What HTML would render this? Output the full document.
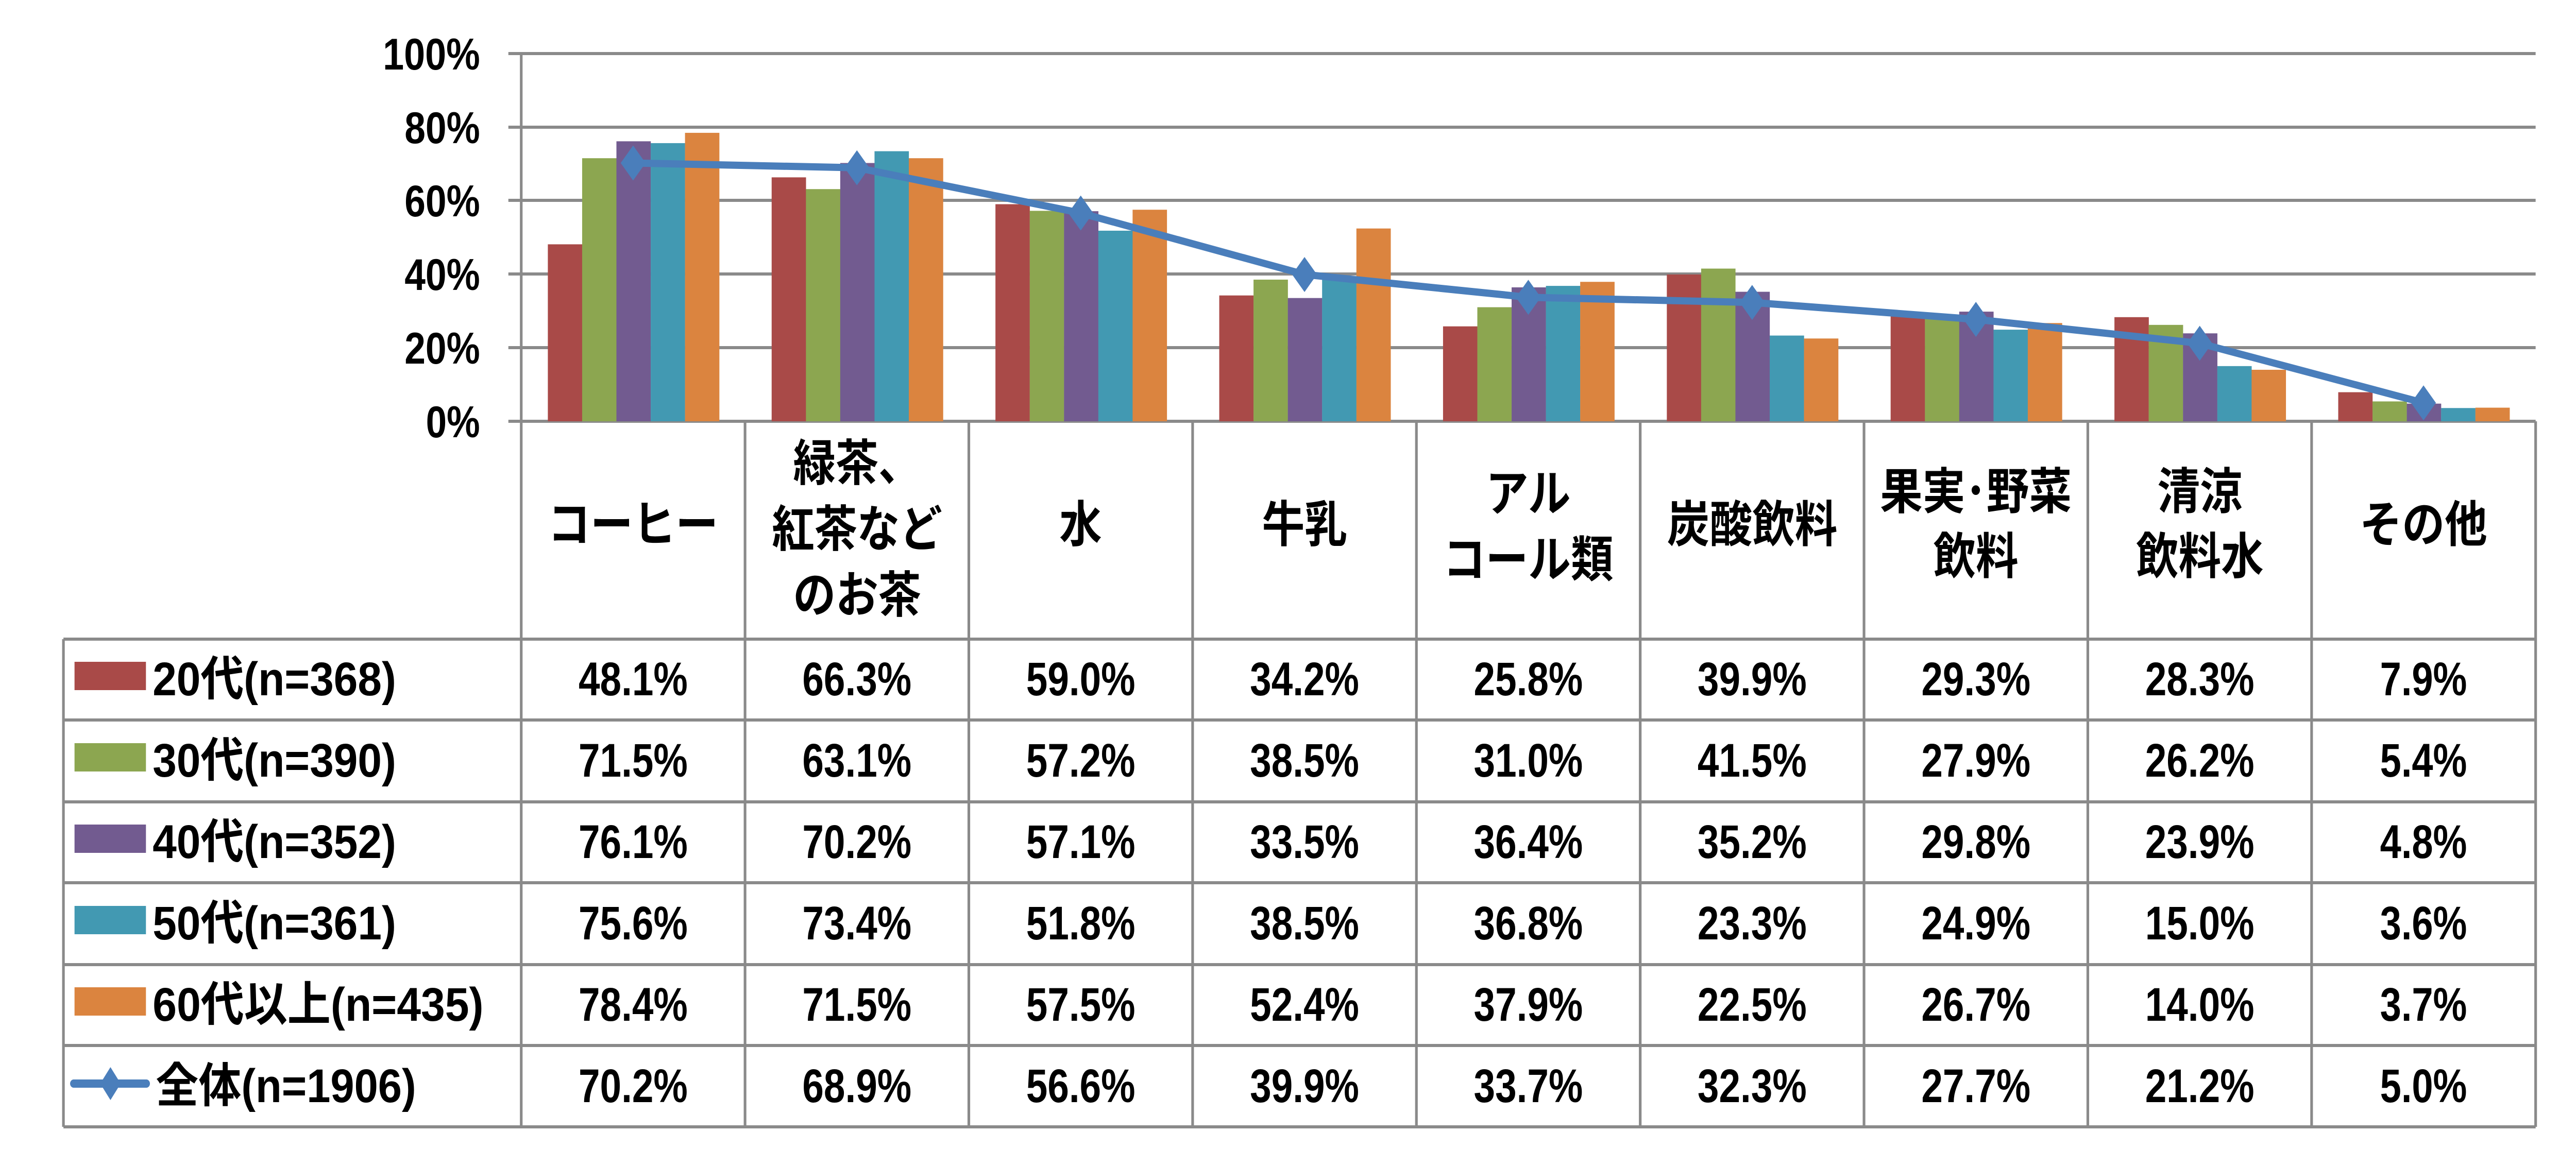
<!DOCTYPE html>
<html><head><meta charset="utf-8"><style>
html,body{margin:0;padding:0;background:#fff;width:100%;height:100%;overflow:hidden;}
svg{display:block;width:100vw;height:100vh;}
text{font-family:"Liberation Sans","Noto Sans CJK JP",sans-serif;font-weight:bold;fill:#000;}
</style></head><body>
<svg viewBox="0 0 5807 2231" preserveAspectRatio="none" xmlns="http://www.w3.org/2000/svg">
<g stroke="#8a8a8a" stroke-width="6">
<line x1="1146" y1="104" x2="5716" y2="104"/>
<line x1="1146" y1="247" x2="5716" y2="247"/>
<line x1="1146" y1="389" x2="5716" y2="389"/>
<line x1="1146" y1="532" x2="5716" y2="532"/>
<line x1="1146" y1="675" x2="5716" y2="675"/>
<line x1="1146" y1="818" x2="5716" y2="818"/>
<line x1="1175" y1="104" x2="1175" y2="2188"/>
<line x1="1679.5" y1="818" x2="1679.5" y2="2188"/>
<line x1="2184" y1="818" x2="2184" y2="2188"/>
<line x1="2688.5" y1="818" x2="2688.5" y2="2188"/>
<line x1="3193" y1="818" x2="3193" y2="2188"/>
<line x1="3697.5" y1="818" x2="3697.5" y2="2188"/>
<line x1="4202" y1="818" x2="4202" y2="2188"/>
<line x1="4706.5" y1="818" x2="4706.5" y2="2188"/>
<line x1="5211" y1="818" x2="5211" y2="2188"/>
<line x1="5716" y1="818" x2="5716" y2="2188"/>
<line x1="143" y1="1241" x2="143" y2="2188"/>
<line x1="143" y1="1241" x2="5716" y2="1241"/>
<line x1="143" y1="1398" x2="5716" y2="1398"/>
<line x1="143" y1="1557" x2="5716" y2="1557"/>
<line x1="143" y1="1714" x2="5716" y2="1714"/>
<line x1="143" y1="1873" x2="5716" y2="1873"/>
<line x1="143" y1="2030" x2="5716" y2="2030"/>
<line x1="143" y1="2188" x2="5716" y2="2188"/>
</g>
<g font-size="86" text-anchor="end">
<text x="1082" y="135" textLength="219" lengthAdjust="spacingAndGlyphs">100%</text>
<text x="1082" y="278" textLength="170" lengthAdjust="spacingAndGlyphs">80%</text>
<text x="1082" y="420" textLength="170" lengthAdjust="spacingAndGlyphs">60%</text>
<text x="1082" y="563" textLength="170" lengthAdjust="spacingAndGlyphs">40%</text>
<text x="1082" y="706" textLength="170" lengthAdjust="spacingAndGlyphs">20%</text>
<text x="1082" y="849" textLength="122" lengthAdjust="spacingAndGlyphs">0%</text>
</g>
<g id="bars"></g>
<g font-size="96" text-anchor="middle">
<text x="1427" y="1052">コーヒー</text>
<text x="1932" y="933">緑茶、</text><text x="1932" y="1061">紅茶など</text><text x="1932" y="1189">のお茶</text>
<text x="2436" y="1052">水</text>
<text x="2941" y="1052">牛乳</text>
<text x="3445" y="992">アル</text><text x="3445" y="1120">コール類</text>
<text x="3950" y="1052">炭酸飲料</text>
<text x="4454" y="988">果実･野菜</text><text x="4454" y="1114">飲料</text>
<text x="4959" y="988">清涼</text><text x="4959" y="1114">飲料水</text>
<text x="5463" y="1052">その他</text>
</g>
<rect x="168" y="1285" width="161" height="55" fill="#A94A48"/>
<rect x="168" y="1443" width="161" height="55" fill="#8CA650"/>
<rect x="168" y="1601" width="161" height="55" fill="#725B90"/>
<rect x="168" y="1759" width="161" height="55" fill="#4299B2"/>
<rect x="168" y="1917" width="161" height="55" fill="#DB843F"/>
<line x1="166" y1="2104" x2="330" y2="2104" stroke="#4A7EBB" stroke-width="16" stroke-linecap="round"/>
<polygon points="249,2072 272,2104 249,2136 226,2104" fill="#4A7EBB"/>
<g font-size="92">
<text x="344" y="1350" textLength="549" lengthAdjust="spacingAndGlyphs">20代(n=368)</text>
<text x="344" y="1508" textLength="549" lengthAdjust="spacingAndGlyphs">30代(n=390)</text>
<text x="344" y="1666" textLength="549" lengthAdjust="spacingAndGlyphs">40代(n=352)</text>
<text x="344" y="1824" textLength="549" lengthAdjust="spacingAndGlyphs">50代(n=361)</text>
<text x="344" y="1982" textLength="746" lengthAdjust="spacingAndGlyphs">60代以上(n=435)</text>
<text x="351" y="2140" textLength="587" lengthAdjust="spacingAndGlyphs">全体(n=1906)</text>
</g>
<g id="nums" font-size="92" text-anchor="middle"></g>
<g id="line"></g>
<script>
var NS="http://www.w3.org/2000/svg";
var data=[
[48.1,66.3,59.0,34.2,25.8,39.9,29.3,28.3,7.9],
[71.5,63.1,57.2,38.5,31.0,41.5,27.9,26.2,5.4],
[76.1,70.2,57.1,33.5,36.4,35.2,29.8,23.9,4.8],
[75.6,73.4,51.8,38.5,36.8,23.3,24.9,15.0,3.6],
[78.4,71.5,57.5,52.4,37.9,22.5,26.7,14.0,3.7],
[70.2,68.9,56.6,39.9,33.7,32.3,27.7,21.2,5.0]];
var cols=["#A94A48","#8CA650","#725B90","#4299B2","#DB843F"];
var X0=1175,W=504.5,Y0=818,K=7.144;
var bars=document.getElementById("bars");
for(var s=0;s<5;s++)for(var i=0;i<9;i++){
 var r=document.createElementNS(NS,"rect");var h=data[s][i]*K;
 r.setAttribute("x",X0+W*i+60+s*77.3);r.setAttribute("y",Y0-h);
 r.setAttribute("width",77.5);r.setAttribute("height",h);r.setAttribute("fill",cols[s]);bars.appendChild(r);}
var nums=document.getElementById("nums");
var base=[1350,1508,1666,1824,1982,2140];
for(var s=0;s<6;s++)for(var i=0;i<9;i++){
 var t=document.createElementNS(NS,"text");var str=data[s][i].toFixed(1)+"%";
 t.setAttribute("x",X0+W*(i+0.5));t.setAttribute("y",base[s]);
 t.setAttribute("textLength",str.length==5?246:196);t.setAttribute("lengthAdjust","spacingAndGlyphs");
 t.textContent=str;nums.appendChild(t);}
var lg=document.getElementById("line");var pts=[];
for(var i=0;i<9;i++)pts.push((X0+W*(i+0.5))+","+(Y0-data[5][i]*K));
var pl=document.createElementNS(NS,"polyline");pl.setAttribute("points",pts.join(" "));
pl.setAttribute("fill","none");pl.setAttribute("stroke","#4A7EBB");pl.setAttribute("stroke-width","14");pl.setAttribute("stroke-linejoin","round");lg.appendChild(pl);
for(var i=0;i<9;i++){var x=X0+W*(i+0.5),y=Y0-data[5][i]*K;
 var p=document.createElementNS(NS,"polygon");
 p.setAttribute("points",x+","+(y-34)+" "+(x+28)+","+y+" "+x+","+(y+34)+" "+(x-28)+","+y);
 p.setAttribute("fill","#4A7EBB");lg.appendChild(p);}
</script>
</svg>
</body></html>
